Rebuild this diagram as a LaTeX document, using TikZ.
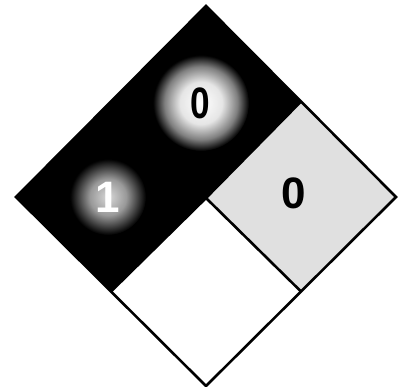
\documentclass[tikz,border=0pt]{standalone}
\usepackage{fontspec}
\setmainfont{Liberation Sans}
\usepackage{xcolor}
\usepackage{tikz}
\usetikzlibrary{calc}
\definecolor{hblack}{HTML}{000000}
\definecolor{hspeck}{HTML}{E0E0E0}
\pgfdeclareradialshading{brightglow}{\pgfpoint{0bp}{0bp}}{color(0bp)=(white); color(11bp)=(white!90!black); color(19bp)=(white!50!black); color(25bp)=(black); color(50bp)=(black)}
\pgfdeclareradialshading{dimglow}{\pgfpoint{0bp}{0bp}}{color(0bp)=(white!85!black); color(12bp)=(white!60!black); color(25bp)=(black); color(50bp)=(black)}

\begin{document}
\begin{tikzpicture}[x=1pt, y=-1pt,
  rating/.style={font=\fontsize{44}{44}\selectfont\bfseries, inner sep=0pt},
  border/.style={line width=2.6pt, line join=miter, black}]
\useasboundingbox (0,0) rectangle (401,387);
% corners of the diamond
\coordinate (T) at (206,6);
\coordinate (R) at (396,197);
\coordinate (B) at (206,386);
\coordinate (L) at (16,197);
\coordinate (M) at (206,198);
\coordinate (TR) at ($(T)!0.5!(R)$);
\coordinate (BR) at ($(B)!0.5!(R)$);
\coordinate (BL) at ($(B)!0.5!(L)$);
% black part (top + left)
\fill[hblack] (T) -- (TR) -- (M) -- (BL) -- (L) -- cycle;
\fill[hspeck] (TR) -- (R) -- (BR) -- (M) -- cycle;
% glows
\shade[shading=brightglow] (201,103) circle (48);
\shade[shading=dimglow] (108,197) circle (38);
% frame and dividers
\draw[border] (T) -- (R) -- (B) -- (L) -- cycle;
\draw[border] (TR) -- (M) -- (BL);
\draw[border] (M) -- (BR);
% ratings
\node[rating, xscale=0.8] (health) at (200,103) {0};
\node[rating, white] (fire) at (108,197) {1};
\node[rating] (react) at (294,193) {0};
\end{tikzpicture}
\end{document}
